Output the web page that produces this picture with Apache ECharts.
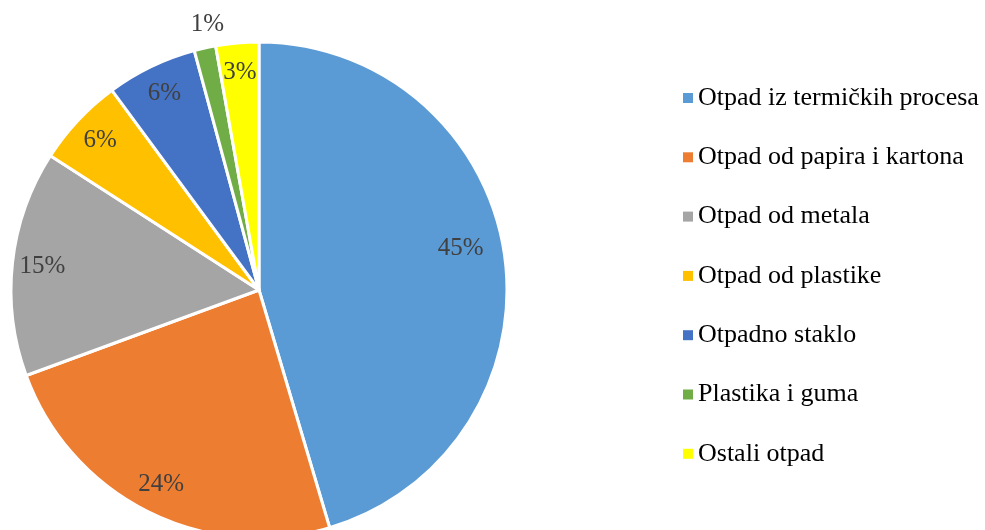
<!DOCTYPE html>
<html>
<head>
<meta charset="utf-8">
<script src="https://cdn.jsdelivr.net/npm/echarts@6/dist/echarts.min.js"></script>
<style>html,body{margin:0;padding:0;background:#fff;}#c{width:985px;height:530px;}</style>
</head>
<body>
<div id="c"></div>
<script>
var categories = ['Otpad iz termičkih procesa','Otpad od papira i kartona','Otpad od metala','Otpad od plastike','Otpadno staklo','Plastika i guma','Ostali otpad'];
var values = [45.4, 24.0, 14.7, 5.8, 5.9, 1.4, 2.8];
var colors = ['#5B9BD5','#ED7D31','#A5A5A5','#FFC000','#4472C4','#70AD47','#FFFF00'];

var FONT = '"Times New Roman", "Liberation Serif", serif';
var chart = echarts.init(document.getElementById('c'));

var sliceData = categories.map(function(n,i){
  return {name:n, value:values[i], itemStyle:{color:colors[i]}};
});
var labelData = categories.map(function(n,i){
  var d = {name:n, value:values[i]};
  if (i === 0) d.label = {offset:[-14,-10]};
  if (values[i] < 1.5) d.label = {offset:[-4,-53]};
  return d;
});

chart.setOption({
  animation:false,
  color:colors,
  legend:{
    orient:'vertical', left:678, top:80,
    itemWidth:10, itemHeight:10, itemGap:33.3, icon:'rect',
    itemStyle:{borderWidth:0},
    textStyle:{fontFamily:FONT, fontSize:26, color:'#000'},
    data:categories
  },
  series:[
    {
      type:'pie', center:[259,290], radius:[0,248], startAngle:90, clockwise:true,
      silent:true,
      itemStyle:{borderColor:'#fff', borderWidth:3},
      label:{show:false}, labelLine:{show:false},
      data:sliceData
    },
    {
      type:'pie', center:[259,290], radius:[183,247], startAngle:90, clockwise:true,
      silent:true, legendHoverLink:false,
      itemStyle:{color:'rgba(0,0,0,0)', borderWidth:0},
      label:{show:true, position:'inside', fontFamily:FONT, fontSize:25, color:'#404040',
        formatter:function(p){ return Math.round(p.value) + '%'; }},
      labelLine:{show:false},
      data:labelData
    }
  ]
});
</script>
</body>
</html>
